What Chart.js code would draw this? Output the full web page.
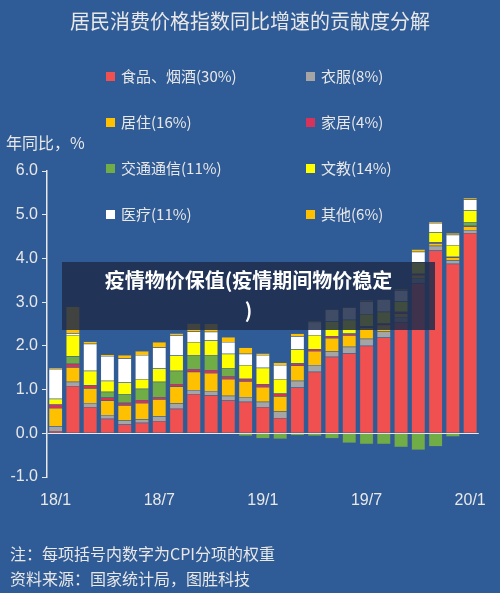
<!DOCTYPE html>
<html>
<head>
<meta charset="utf-8">
<script src="https://cdn.jsdelivr.net/npm/chart.js@4.4.1/dist/chart.umd.min.js"></script>
<style>
  body { margin: 0; background: #2f5b96; font-family: "Noto Sans CJK SC", "Liberation Sans", sans-serif; }
  #wrap { position: relative; width: 500px; height: 593px; overflow: hidden; background: #2f5b96; }
  #chart { position: absolute; left: 0; top: 0; }
  .title { position: absolute; left: 0; width: 500px; top: 6px; text-align: center; color: #e8e8e8; font-size: 20px; }
  .ytitle { position: absolute; left: 6px; top: 130px; color: #e8e8e8; font-size: 16px; }
  .legend { position: absolute; color: #e8e8e8; font-size: 15px; }
  .legend span { display: inline-block; width: 9px; height: 9px; margin-right: 6px; vertical-align: 1px; }
  .note { position: absolute; left: 10px; color: #e8e8e8; font-size: 16px; }
  .banner { position: absolute; left: 62px; top: 262px; width: 373px; height: 68px; background: rgba(30,45,75,0.85); color: #fff; font-weight: bold; font-size: 20px; text-align: center; line-height: 30px; padding-top: 3px; box-sizing: border-box; }
</style>
</head>
<body>
<div id="wrap">
  <canvas id="chart" width="500" height="593"></canvas>
  <div class="title">居民消费价格指数同比增速的贡献度分解</div>
  <div class="ytitle">年同比，%</div>
  <div id="legend"></div>
  <div class="note" style="top:541px">注：每项括号内数字为CPI分项的权重</div>
  <div class="note" style="top:566px">资料来源：国家统计局，图胜科技</div>
  <div class="banner">疫情物价保值(疫情期间物价稳定<br>)</div>
</div>
<script>
// months 18/1 .. 20/1
const months = ['18/1','18/2','18/3','18/4','18/5','18/6','18/7','18/8','18/9','18/10','18/11','18/12',
  '19/1','19/2','19/3','19/4','19/5','19/6','19/7','19/8','19/9','19/10','19/11','19/12','20/1'];
const yTicks = [-1, 0, 1, 2, 3, 4, 5, 6];

const food = [0.05,1.08,0.6,0.33,0.2,0.24,0.28,0.56,0.9,0.87,0.75,0.72,0.6,0.35,1.05,1.41,1.75,1.83,2.0,2.19,2.54,3.43,4.18,3.88,4.58];
const clothes = [0.11,0.1,0.09,0.09,0.09,0.08,0.11,0.12,0.09,0.1,0.11,0.11,0.12,0.15,0.15,0.15,0.12,0.15,0.16,0.14,0.12,0.12,0.11,0.08,0.07];
const housing = [0.42,0.33,0.34,0.33,0.35,0.37,0.39,0.39,0.42,0.41,0.38,0.36,0.34,0.35,0.35,0.32,0.31,0.26,0.26,0.15,0.08,0.07,0.06,0.06,0.08];
const household = [0.08,0.08,0.07,0.07,0.06,0.07,0.05,0.06,0.06,0.07,0.06,0.06,0.06,0.06,0.05,0.05,0.04,0.04,0.03,0.03,0.04,0.03,0.02,0.02,0.02];
const transport = [0,0.17,0,0.13,0.2,0.26,0.35,0.3,0.31,0.33,0.18,-0.06,-0.12,-0.13,-0.05,-0.06,-0.12,-0.22,-0.25,-0.25,-0.32,-0.38,-0.3,-0.08,0.07];
const education = [0.13,0.49,0.33,0.25,0.26,0.22,0.3,0.35,0.31,0.34,0.34,0.31,0.38,0.33,0.32,0.32,0.34,0.32,0.28,0.27,0.24,0.26,0.23,0.27,0.28];
const medical = [0.68,0.04,0.62,0.57,0.55,0.55,0.48,0.46,0.24,0.2,0.27,0.26,0.29,0.32,0.3,0.3,0.27,0.28,0.29,0.28,0.25,0.24,0.21,0.23,0.25];
const other = [0.03,0.61,0.05,0.03,0.08,0.09,0.13,0.05,0.19,0.19,0.11,0.14,0.04,0.06,0.06,0.03,0.02,0.02,0.03,0.02,0.03,0.06,0.03,0.04,0.04];

const series = [
  { label: '食品、烟酒(30%)', data: food, color: '#f0504f' },
  { label: '衣服(8%)', data: clothes, color: '#a5a5a5' },
  { label: '居住(16%)', data: housing, color: '#ffc000' },
  { label: '家居(4%)', data: household, color: '#d6325a' },
  { label: '交通通信(11%)', data: transport, color: '#70ad47' },
  { label: '文教(14%)', data: education, color: '#ffff00' },
  { label: '医疗(11%)', data: medical, color: '#ffffff' },
  { label: '其他(6%)', data: other, color: '#ffc000' }
];

// Legend: two columns, four rows
document.getElementById('legend').innerHTML = series.map((s, i) => {
  const left = i % 2 === 0 ? 106 : 306;
  const top = 65 + Math.floor(i / 2) * 46;
  return `<div class="legend" style="left:${left}px;top:${top}px"><span style="background:${s.color}"></span>${s.label}</div>`;
}).join('');

new Chart(document.getElementById('chart'), {
  type: 'bar',
  data: {
    labels: months,
    datasets: series.map(s => ({
      label: s.label,
      data: s.data,
      backgroundColor: s.color,
      borderColor: 'rgba(120,120,120,0.6)',
      borderWidth: 0.5,
      barPercentage: 0.8,
      categoryPercentage: 1
    }))
  },
  options: {
    responsive: false,
    animation: false,
    layout: { padding: { top: 171, right: 14, bottom: 0, left: 0 } },
    plugins: { legend: { display: false }, tooltip: { enabled: false } },
    scales: {
      x: {
        stacked: true,
        afterFit: (axis) => { axis.height = 116; },
        grid: { display: false, drawTicks: false },
        border: { display: false },
        ticks: {
          color: '#e8e8e8', font: { size: 16, family: 'Liberation Sans' }, maxRotation: 0, autoSkip: false, padding: 14,
          callback: function (v, i) { const m = months[i]; return (m.endsWith('/1') || m.endsWith('/7')) ? m : ''; }
        }
      },
      y: {
        stacked: true,
        min: -1, max: 6,
        afterFit: (axis) => { axis.width = 47; },
        afterBuildTicks: (axis) => { axis.ticks = yTicks.map(v => ({ value: v })); },
        grid: {
          color: (ctx) => ctx.tick && ctx.tick.value === 0 ? '#e8e8e8' : 'rgba(0,0,0,0)',
          tickColor: '#e8e8e8', tickLength: 5
        },
        border: { display: true, color: '#e8e8e8', width: 1.5 },
        ticks: { color: '#e8e8e8', font: { size: 16, family: 'Liberation Sans' }, padding: 4, callback: (v) => v.toFixed(1) }
      }
    }
  }
});
</script>
</body>
</html>
